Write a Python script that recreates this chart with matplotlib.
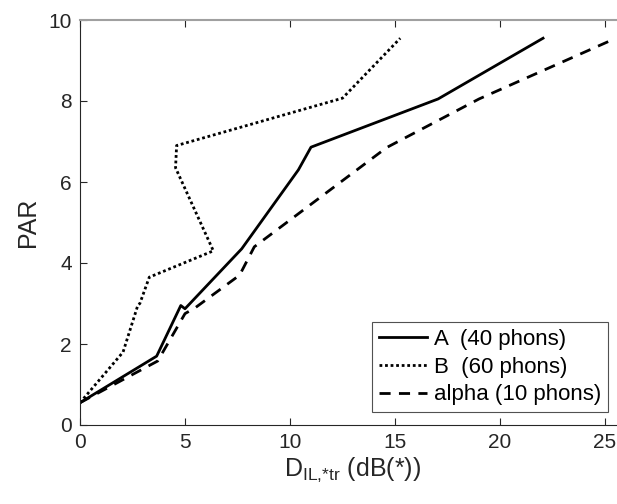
import matplotlib
matplotlib.use("Agg")
import matplotlib.pyplot as plt

# series
a_x = [0, 3.65, 4.8, 5.0, 7.7, 10.4, 11.0, 17.05, 22.05]
a_y = [0.55, 1.7, 2.95, 2.87, 4.35, 6.3, 6.86, 8.05, 9.55]

b_x = [0, 2.05, 2.75, 2.85, 3.3, 6.35, 4.55, 4.6, 12.5, 15.25]
b_y = [0.55, 1.8, 2.95, 3.0, 3.65, 4.3, 6.35, 6.9, 8.07, 9.55]

alpha_x = [0, 3.7, 5.0, 5.5, 7.6, 8.3, 14.6, 19.0, 25.3]
alpha_y = [0.55, 1.58, 2.75, 2.9, 3.7, 4.4, 6.85, 8.05, 9.5]

labels = ["A  (40 phons)", "B  (60 phons)", "alpha (10 phons)"]
x_ticks = [0, 5, 10, 15, 20, 25]
y_ticks = [0, 2, 4, 6, 8, 10]

plt.rcParams["font.family"] = ["Liberation Sans", "DejaVu Sans"]
plt.rcParams["mathtext.fontset"] = "custom"
plt.rcParams["mathtext.rm"] = "Liberation Sans"

fig = plt.figure(figsize=(6.17, 5.04), dpi=100)
ax = fig.add_axes([80 / 617, 79 / 504, 546 / 617, 405 / 504])

ax.plot(a_x, a_y, color="black", lw=2.0, ls="-", label=labels[0])
ax.plot(b_x, b_y, color="black", lw=2.0, ls=(0, (1, 1)), label=labels[1])
ax.plot(alpha_x, alpha_y, color="black", lw=2.0, ls=(0, (4, 3)), label=labels[2])

ax.set_xlim(0, 26)
ax.set_ylim(0, 10)
ax.set_xticks(x_ticks)
ax.set_yticks(y_ticks)
ax.tick_params(direction="in", top=True, right=True, labelsize=15,
               colors="#262626", length=5, width=0.8, pad=6)
for s in ax.spines.values():
    s.set_color("#262626")
    s.set_linewidth(0.8)
ax.spines["top"].set_color("#a0a0a0")
ax.spines["top"].set_linewidth(1.5)

ax.set_ylabel("PAR", fontsize=18, color="#262626", labelpad=6)
ax.set_xlabel(r"D$_{\mathregular{IL{,}{*}tr}}$ (dB(*))", fontsize=18, color="#262626", labelpad=2)

leg = ax.legend(loc="lower right", bbox_to_anchor=(528 / 546, 13 / 405), fontsize=16,
                frameon=True, fancybox=False, edgecolor="#262626", handlelength=2.2,
                handletextpad=0.3, borderpad=0.3, labelspacing=0.3, borderaxespad=0)
leg.get_frame().set_linewidth(0.8)

fig.savefig("out.png", dpi=100)
